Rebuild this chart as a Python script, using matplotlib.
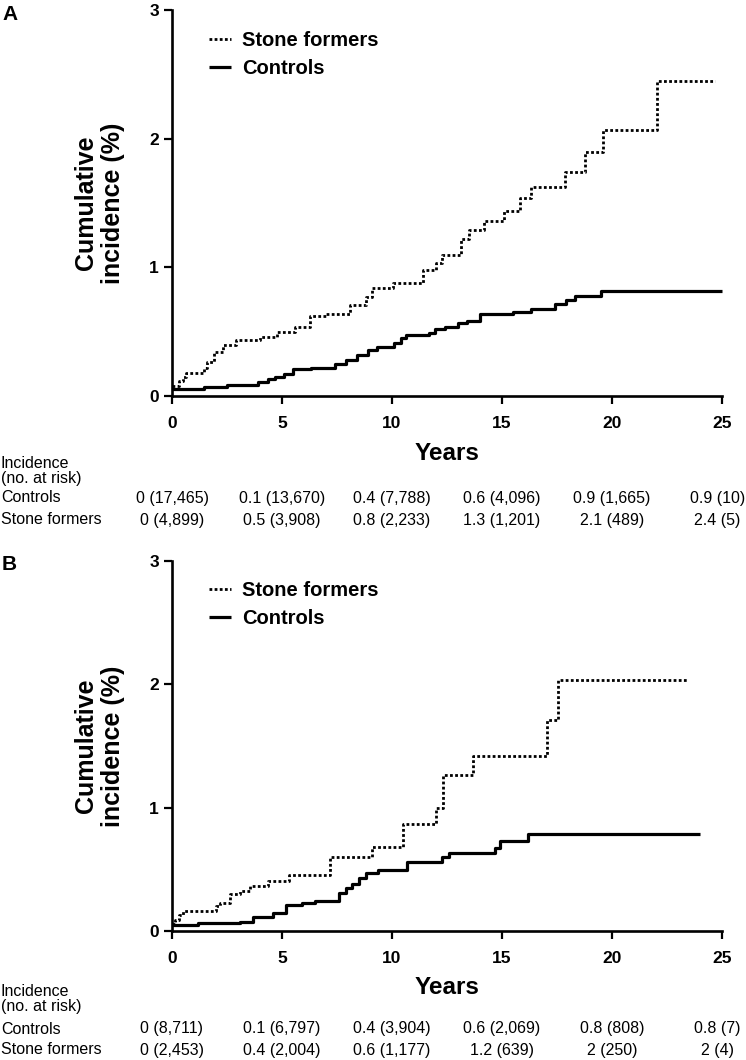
import matplotlib
matplotlib.use("Agg")
import matplotlib.pyplot as plt
from matplotlib import font_manager, transforms

# ---------------- data ----------------
# Panel A: step curves (time in years, cumulative incidence in %)
a_sf_t = [0, 0.3, 0.5, 0.65, 1.45, 1.6, 1.9, 2.3, 2.9, 4.0, 4.75, 5.6, 6.26, 7.0,
          8.1, 8.8, 9.1, 10.05, 11.4, 12.0, 12.25, 13.15, 13.5, 14.2, 15.1, 15.8,
          16.3, 17.85, 18.75, 19.6, 22.05, 24.7]
a_sf_v = [0.078, 0.12, 0.15, 0.18, 0.22, 0.265, 0.34, 0.40, 0.435, 0.455, 0.50, 0.54,
          0.62, 0.64, 0.707, 0.77, 0.837, 0.875, 0.98, 1.03, 1.094, 1.224, 1.29, 1.36,
          1.44, 1.535, 1.625, 1.74, 1.90, 2.07, 2.447, 2.447]
a_ctrl_t = [0, 1.45, 2.5, 3.9, 4.35, 4.7, 5.1, 5.5, 6.3, 7.4, 7.9, 8.4, 8.9, 9.3, 10.1,
            10.4, 10.65, 11.7, 11.95, 12.4, 13.0, 13.4, 14.0, 15.5, 16.3, 17.4, 17.9,
            18.3, 19.5, 25]
a_ctrl_v = [0.052, 0.068, 0.083, 0.11, 0.13, 0.15, 0.17, 0.207, 0.22, 0.25, 0.28, 0.32,
            0.36, 0.383, 0.41, 0.45, 0.474, 0.49, 0.524, 0.537, 0.568, 0.583, 0.635,
            0.653, 0.68, 0.713, 0.744, 0.775, 0.817, 0.817]

# Panel B
b_sf_t = [0, 0.15, 0.3, 0.5, 2.0, 2.2, 2.65, 3.1, 3.55, 4.35, 5.3, 7.2, 9.1, 10.5,
          12.0, 12.3, 13.7, 17.03, 17.55, 23.4]
b_sf_v = [0.054, 0.09, 0.13, 0.16, 0.2, 0.23, 0.30, 0.324, 0.365, 0.405, 0.454, 0.60,
          0.68, 0.87, 1.0, 1.265, 1.42, 1.71, 2.036, 2.036]
b_ctrl_t = [0, 1.2, 3.1, 3.7, 4.6, 5.2, 5.9, 6.5, 7.6, 7.9, 8.2, 8.5, 8.8, 9.36, 10.7,
            12.25, 12.6, 14.7, 14.9, 16.2, 24.0]
b_ctrl_v = [0.046, 0.062, 0.073, 0.116, 0.143, 0.21, 0.23, 0.243, 0.305, 0.35, 0.38,
            0.427, 0.468, 0.495, 0.563, 0.60, 0.63, 0.67, 0.73, 0.79, 0.79]

# Risk tables
table_years = [0, 5, 10, 15, 20, 25]
a_ctrl_inc = [0, 0.1, 0.4, 0.6, 0.9, 0.9]
a_ctrl_risk = [17465, 13670, 7788, 4096, 1665, 10]
a_sf_inc = [0, 0.5, 0.8, 1.3, 2.1, 2.4]
a_sf_risk = [4899, 3908, 2233, 1201, 489, 5]
b_ctrl_inc = [0, 0.1, 0.4, 0.6, 0.8, 0.8]
b_ctrl_risk = [8711, 6797, 3904, 2069, 808, 7]
b_sf_inc = [0, 0.4, 0.6, 1.2, 2, 2]
b_sf_risk = [2453, 2004, 1177, 639, 250, 4]

x_ticks = [0, 5, 10, 15, 20, 25]
y_ticks = [0, 1, 2, 3]

# ---------------- fonts ----------------
names = {f.name for f in font_manager.fontManager.ttflist}
MAIN = "Liberation Sans" if "Liberation Sans" in names else "DejaVu Sans"
NARROW = "Liberation Sans Narrow" if "Liberation Sans Narrow" in names else MAIN
plt.rcParams["font.family"] = [MAIN, "DejaVu Sans"]

W, H = 746, 1060
fig = plt.figure(figsize=(W / 100, H / 100), dpi=100)


def fx(px):
    return px / W


def fy(py):
    return 1 - py / H


def panel(ax, sf_t, sf_v, c_t, c_v, letter, letter_y, leg_top_px, ax_top, ax_bot,
          rows_px, ctrl_inc, ctrl_risk, sf_inc, sf_risk, last_center):
    ax.step(sf_t, sf_v, where="post", color="black", lw=2.0,
            linestyle=(0, (1.0, 0.85)), dash_capstyle="butt", label="Stone formers",
            clip_on=False, zorder=3)
    ax.step(c_t, c_v, where="post", color="black", lw=2.3, label="Controls",
            solid_capstyle="butt", clip_on=False, zorder=3)
    ax.set_xlim(0, 25)
    ax.set_ylim(0, 3)
    ax.set_xticks(x_ticks)
    ax.set_yticks(y_ticks)
    for s in ("top", "right"):
        ax.spines[s].set_visible(False)
    for s in ("left", "bottom"):
        ax.spines[s].set_linewidth(1.9)
    ax.tick_params(axis="both", direction="out", length=5.5, width=1.6,
                   labelsize=12.5)
    ax.tick_params(axis="x", pad=9)
    ax.tick_params(axis="y", pad=4)
    for lab in ax.get_xticklabels() + ax.get_yticklabels():
        lab.set_fontweight("bold")
    ax.text(-0.1325, 0.5, "Cumulative\nincidence (%)", transform=ax.transAxes,
            rotation=90, ha="center", va="center", multialignment="center",
            fontsize=18, fontweight="bold", linespacing=1.15)
    # legend
    ax_h = ax_bot - ax_top
    leg = ax.legend(loc="upper left",
                    bbox_to_anchor=((209 - 172) / 550, (ax_bot - leg_top_px) / ax_h),
                    frameon=False, fontsize=14.5, handlelength=1.1,
                    handletextpad=0.55, labelspacing=0.45, borderaxespad=0,
                    borderpad=0)
    for t in leg.get_texts():
        t.set_fontweight("bold")
    fig.text(fx(2), fy(letter_y), letter, fontsize=15, fontweight="bold",
             ha="left", va="center")
    # Years label
    years_y, inc_y, nar_y, ctrl_y, sf_y = rows_px
    fig.text(ax.get_position().x0 + ax.get_position().width / 2, fy(years_y), "Years",
             fontsize=17.5, fontweight="bold", ha="center", va="center")
    # table
    fig.text(fx(1), fy(inc_y), "Incidence", fontsize=11.5, family=NARROW,
             ha="left", va="center")
    fig.text(fx(1), fy(nar_y), "(no. at risk)", fontsize=11.5, family=NARROW,
             ha="left", va="center")
    fig.text(fx(1), fy(ctrl_y), "Controls", fontsize=11.5, family=NARROW,
             ha="left", va="center")
    fig.text(fx(1), fy(sf_y), "Stone formers", fontsize=11.5, family=NARROW,
             ha="left", va="center")
    tr = transforms.blended_transform_factory(ax.transData, fig.transFigure)
    for i, yr in enumerate(table_years):
        xc = yr if yr < 25 else last_center
        fig.text(xc, fy(ctrl_y), f"{ctrl_inc[i]:g} ({ctrl_risk[i]:,})", transform=tr,
                 fontsize=11.5, family=NARROW, ha="center", va="center")
        fig.text(xc, fy(sf_y), f"{sf_inc[i]:g} ({sf_risk[i]:,})", transform=tr,
                 fontsize=11.5, family=NARROW, ha="center", va="center")


# Panel A axes: x 172..722 px, y 10..396 px
a_top, a_bot = 10, 396
axA = fig.add_axes([fx(172), fy(a_bot), 550 / W, (a_bot - a_top) / H])
panel(axA, a_sf_t, a_sf_v, a_ctrl_t, a_ctrl_v, "A", 14, 31, a_top, a_bot,
      (453, 463, 478, 498, 520), a_ctrl_inc, a_ctrl_risk, a_sf_inc, a_sf_risk, 24.8)

# Panel B axes: y 561..931 px
b_top, b_bot = 561, 931
axB = fig.add_axes([fx(172), fy(b_bot), 550 / W, (b_bot - b_top) / H])
panel(axB, b_sf_t, b_sf_v, b_ctrl_t, b_ctrl_v, "B", 564, 581, b_top, b_bot,
      (988, 992, 1007, 1029, 1050), b_ctrl_inc, b_ctrl_risk, b_sf_inc, b_sf_risk, 24.8)

fig.savefig("out.png", dpi=100)
